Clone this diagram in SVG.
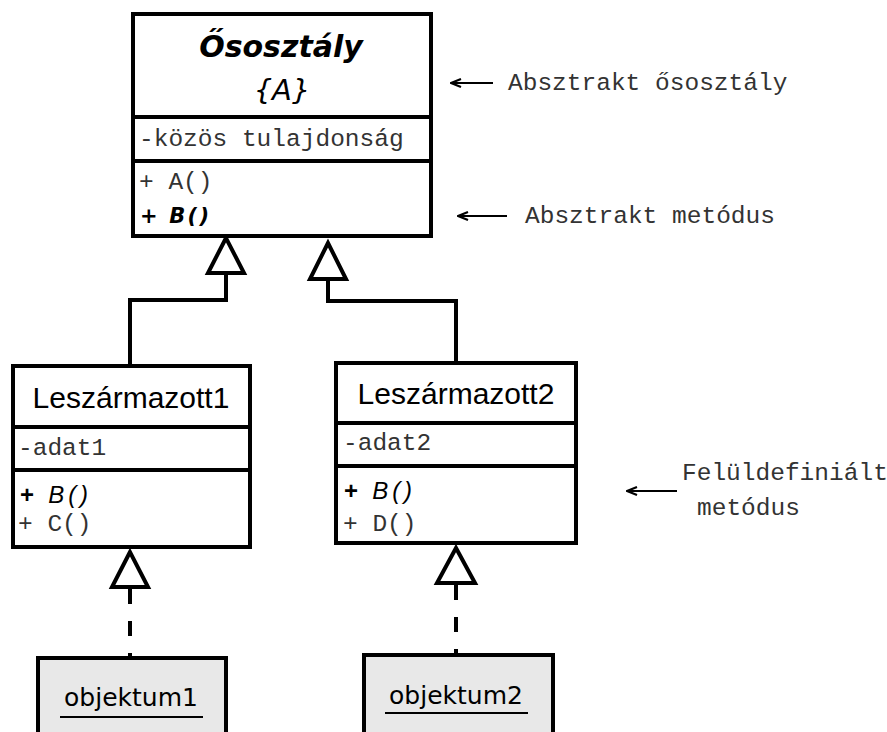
<svg xmlns="http://www.w3.org/2000/svg" width="887" height="732" viewBox="0 0 887 732">
  <defs>
    <marker id="note-arrow" viewBox="0 0 12 10" refX="1" refY="5" markerWidth="12" markerHeight="10" markerUnits="userSpaceOnUse" orient="auto">
      <path d="M11,1 L1,5 L11,9" fill="none" stroke="#000" stroke-width="2.2"/>
    </marker>
  </defs>
  <style>
    .box { fill: #fff; stroke: #000; stroke-width: 4; }
    .obj { fill: #e8e8e8; stroke: #000; stroke-width: 4; }
    .div { stroke: #000; stroke-width: 4; }
    .line { fill: none; stroke: #000; stroke-width: 4; }
    .dash { fill: none; stroke: #000; stroke-width: 4; stroke-dasharray: 15 17; }
    .tri { fill: #fff; stroke: #000; stroke-width: 4; stroke-linejoin: miter; }
    .mono { font-family: "Liberation Mono", "DejaVu Sans Mono", monospace; font-size: 24.5px; fill: #333; }
    .head { font-family: "Liberation Sans", Arial, sans-serif; font-size: 30px; fill: #000; text-anchor: middle; }
    .abs { font-family: "DejaVu Sans", Verdana, sans-serif; font-style: oblique; font-weight: bold; fill: #000; }
    .ital { font-family: "DejaVu Sans", Verdana, sans-serif; font-style: oblique; fill: #000; }
    .over { font-family: "Liberation Sans", Arial, sans-serif; font-style: italic; font-size: 24px; fill: #000; }
    .objt { font-family: "DejaVu Sans", Verdana, sans-serif; font-size: 25px; fill: #000; text-anchor: middle; }
    .note { fill: none; stroke: #000; stroke-width: 2.2; marker-start: url(#note-arrow); }
  </style>

  <!-- abstract base class -->
  <g id="osztaly">
    <rect class="box" x="133" y="14" width="298" height="222"/>
    <line class="div" x1="133" y1="117" x2="431" y2="117"/>
    <line class="div" x1="133" y1="161" x2="431" y2="161"/>
    <text class="abs" x="281" y="57" font-size="30" text-anchor="middle">Ősosztály</text>
    <text class="ital" x="282" y="100" font-size="29" text-anchor="middle">{A}</text>
    <text class="mono" x="139" y="146">-közös tulajdonság</text>
    <text class="mono" x="139" y="189">+ A()</text>
    <text class="abs" x="140" y="223" font-size="21" textLength="69" lengthAdjust="spacing">+ B()</text>
  </g>

  <!-- derived class 1 -->
  <g id="leszarmazott1">
    <rect class="box" x="13" y="366" width="237" height="181"/>
    <line class="div" x1="13" y1="427" x2="250" y2="427"/>
    <line class="div" x1="13" y1="470" x2="250" y2="470"/>
    <text class="head" x="131" y="408">Leszármazott1</text>
    <text class="mono" x="18" y="455">-adat1</text>
    <text class="over" x="20" y="503" textLength="68" lengthAdjust="spacing"><tspan font-weight="bold" font-style="normal">+</tspan> B()</text>
    <text class="mono" x="18" y="531">+ C()</text>
  </g>

  <!-- derived class 2 -->
  <g id="leszarmazott2">
    <rect class="box" x="336" y="363" width="240" height="180"/>
    <line class="div" x1="336" y1="423" x2="576" y2="423"/>
    <line class="div" x1="336" y1="466" x2="576" y2="466"/>
    <text class="head" x="456" y="404">Leszármazott2</text>
    <text class="mono" x="343" y="450">-adat2</text>
    <text class="over" x="344" y="499" textLength="68" lengthAdjust="spacing"><tspan font-weight="bold" font-style="normal">+</tspan> B()</text>
    <text class="mono" x="343" y="531">+ D()</text>
  </g>

  <!-- instances -->
  <g id="objektum1">
    <rect class="obj" x="38" y="658" width="188" height="90"/>
    <text class="objt" x="131" y="706">objektum1</text>
    <line x1="60" y1="717" x2="203" y2="717" stroke="#000" stroke-width="2"/>
  </g>
  <g id="objektum2">
    <rect class="obj" x="364" y="655" width="189" height="90"/>
    <text class="objt" x="456" y="704">objektum2</text>
    <line x1="385" y1="713" x2="528" y2="713" stroke="#000" stroke-width="2"/>
  </g>

  <!-- inheritance and instantiation connectors -->
  <g id="connectors">
    <polyline class="line" points="130,366 130,300 226,300 226,273"/>
    <polygon class="tri" points="226,238 208,273 244,273"/>
    <polyline class="line" points="456,363 456,301 328,301 328,279"/>
    <polygon class="tri" points="328,243 310,279 346,279"/>
    <line class="dash" x1="130" y1="589" x2="130" y2="658"/>
    <polygon class="tri" points="130,552 112,587 148,587"/>
    <line class="dash" x1="456" y1="585" x2="456" y2="655"/>
    <polygon class="tri" points="456,548 437,583 475,583"/>
  </g>

  <!-- annotations -->
  <g id="megjegyzesek">
    <line class="note" x1="451" y1="83" x2="493" y2="83"/>
    <text class="mono" x="508" y="90">Absztrakt ősosztály</text>
    <line class="note" x1="458" y1="216" x2="507" y2="216"/>
    <text class="mono" x="525" y="223">Absztrakt metódus</text>
    <line class="note" x1="627" y1="491" x2="677" y2="491"/>
    <text class="mono" x="682" y="480">Felüldefiniált</text>
    <text class="mono" x="697" y="515">metódus</text>
  </g>
</svg>
